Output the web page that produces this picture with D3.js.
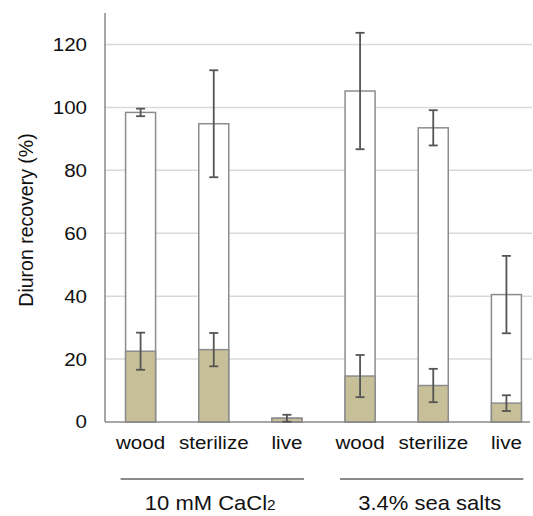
<!DOCTYPE html>
<html>
<head>
<meta charset="utf-8">
<script src="https://cdn.jsdelivr.net/npm/d3@7"></script>
<style>
  body { margin: 0; background: #fff; }
  text { font-family: "Liberation Sans", Arial, Helvetica, sans-serif; fill: #111; }
</style>
</head>
<body>
<div id="vis"></div>
<script>
// data
const categories = ['wood', 'sterilize', 'live', 'wood', 'sterilize', 'live']
const groups = ['10 mM CaCl', '3.4% sea salts']
const groupSub = ['2', '']
const groupMembers = [[0, 2], [3, 5]]
const totalRecovery = [98.4, 94.8, 1.2, 105.2, 93.5, 40.5]
const totalErr = [1.2, 17.0, null, 18.5, 5.6, 12.3]
const boundRecovery = [22.5, 23.0, 1.2, 14.6, 11.6, 6.0]
const boundErr = [5.9, 5.3, 1.1, 6.7, 5.3, 2.5]
const yTicks = [0, 20, 40, 60, 80, 100, 120]

const W = 533, H = 516
const plot = {left: 105, right: 532, top: 13, bottom: 422}
// the source figure's lettering is slightly wider than it is tall
const stretch = 'scale(1.1,1)'

let svg = d3.select('#vis').append('svg')
    .attr('width', W)
    .attr('height', H)

let x = d3.scaleBand()
    .domain(d3.range(categories.length))
    .range([104, 543])
    .paddingInner(0.59)
    .paddingOuter(0.295)

let y = d3.scaleLinear()
    .domain([0, 130])
    .range([plot.bottom, plot.top])

// gridlines
svg.append('g')
    .selectAll('line')
    .data(yTicks.slice(1))
    .join('line')
    .attr('x1', plot.left).attr('x2', plot.right)
    .attr('y1', d => y(d)).attr('y2', d => y(d))
    .attr('stroke', '#d9d9d9')
    .attr('stroke-width', 1.5)

// y axis
let yAxis = d3.axisLeft(y).tickValues(yTicks).tickSize(0)
let gy = svg.append('g')
    .attr('transform', `translate(${plot.left},0)`)
    .call(yAxis)
gy.select('.domain').remove()
gy.selectAll('text')
    .attr('x', 0)
    .attr('transform', 'translate(-18,0) ' + stretch)
    .style('font-size', '18.7px')
    .attr('fill', '#111')
svg.append('line')
    .attr('x1', plot.left).attr('x2', plot.left)
    .attr('y1', plot.top).attr('y2', plot.bottom)
    .attr('stroke', '#8a8a8a').attr('stroke-width', 1.5)

// total recovery bars (white)
svg.append('g')
    .selectAll('rect')
    .data(totalRecovery)
    .join('rect')
    .attr('x', (d, i) => x(i))
    .attr('width', x.bandwidth())
    .attr('y', d => y(d))
    .attr('height', d => y(0) - y(d))
    .attr('fill', '#fff')
    .attr('stroke', '#8c8c8c')
    .attr('stroke-width', 1.5)

// bound fraction bars (tan)
svg.append('g')
    .selectAll('rect')
    .data(boundRecovery)
    .join('rect')
    .attr('x', (d, i) => x(i))
    .attr('width', x.bandwidth())
    .attr('y', d => y(d))
    .attr('height', d => y(0) - y(d))
    .attr('fill', '#c7bf98')
    .attr('stroke', '#8c8c8c')
    .attr('stroke-width', 1.5)

// baseline
svg.append('line')
    .attr('x1', plot.left).attr('x2', 530)
    .attr('y1', y(0)).attr('y2', y(0))
    .attr('stroke', '#8a8a8a').attr('stroke-width', 1.5)

// error bars
function errorBars(vals, errs) {
    let items = vals.map((v, i) => ({i: i, v: v, e: errs[i]})).filter(d => d.e != null)
    let g = svg.append('g').attr('stroke', '#555').attr('stroke-width', 1.8)
    let cx = d => x(d.i) + x.bandwidth() / 2
    let lo = d => y(Math.max(0, d.v - d.e))
    let hi = d => y(d.v + d.e)
    g.selectAll('.stem').data(items).join('line')
        .attr('x1', cx).attr('x2', cx)
        .attr('y1', hi).attr('y2', lo)
    g.selectAll('.capTop').data(items).join('line')
        .attr('x1', d => cx(d) - 4.5).attr('x2', d => cx(d) + 4.5)
        .attr('y1', hi).attr('y2', hi)
    g.selectAll('.capBot').data(items).join('line')
        .attr('x1', d => cx(d) - 4.5).attr('x2', d => cx(d) + 4.5)
        .attr('y1', lo).attr('y2', lo)
}
errorBars(totalRecovery, totalErr)
errorBars(boundRecovery, boundErr)

// category labels
svg.append('g')
    .selectAll('text')
    .data(categories)
    .join('text')
    .attr('transform', (d, i) => `translate(${x(i) + x.bandwidth() / 2},449) ${stretch}`)
    .attr('text-anchor', 'middle')
    .style('font-size', '18.7px')
    .text(d => d)

// group lines and labels
groupMembers.forEach((m, gi) => {
    let x1 = x(m[0]) - 5
    let x2 = x(m[1]) + x.bandwidth() + 2
    svg.append('line')
        .attr('x1', x1).attr('x2', x2)
        .attr('y1', 479).attr('y2', 479)
        .attr('stroke', '#8a8a8a').attr('stroke-width', 1.8)
    let t = svg.append('text')
        .attr('transform', `translate(${(x1 + x2) / 2 - 2},510) ${stretch}`)
        .attr('text-anchor', 'middle')
        .style('font-size', '20px')
    t.append('tspan').text(groups[gi])
    if (groupSub[gi]) t.append('tspan').style('font-size', '14px').text(groupSub[gi])
})

// y axis title
svg.append('text')
    .attr('transform', 'translate(33,220) rotate(-90)')
    .attr('text-anchor', 'middle')
    .style('font-size', '19.5px')
    .text('Diuron recovery (%)')
</script>
</body>
</html>
